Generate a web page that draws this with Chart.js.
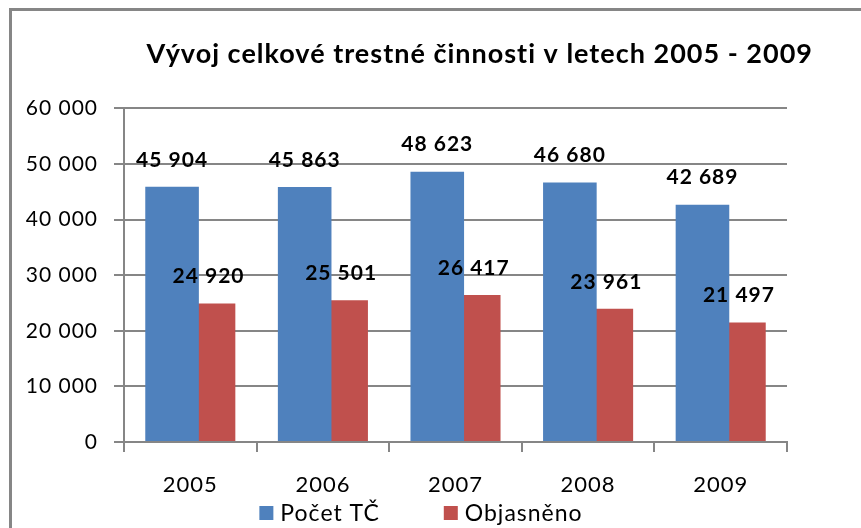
<!DOCTYPE html>
<html>
<head>
<meta charset="utf-8">
<script src="https://cdn.jsdelivr.net/npm/chart.js@4.4.1/dist/chart.umd.min.js"></script>
<style>
  html, body { margin: 0; padding: 0; background: #fff; overflow: hidden; }
  #wrap { position: relative; width: 861px; height: 528px; }
  #frame { position: absolute; left: 9px; top: 8px; width: 900px; height: 600px; border: 3px solid #868686; box-sizing: border-box; }
  canvas { position: absolute; left: 0; top: 0; }
</style>
</head>
<body>
<div id="wrap">
  <div id="frame"></div>
  <canvas id="chart" width="861" height="528"></canvas>
</div>
<script>
var years = ['2005', '2006', '2007', '2008', '2009'];
var pocetTC = [45904, 45863, 48623, 46680, 42689];
var objasneno = [24920, 25501, 26417, 23961, 21497];
var seriesNames = ['Počet TČ', 'Objasněno'];
var chartTitle = 'Vývoj celkové trestné činnosti v letech 2005 - 2009';

var gridColor = '#868686';
var fontName = 'Lato, "Liberation Sans", sans-serif';

// thousands separated by a space, like the original
function fmt(v) {
	return String(v).replace(/\B(?=(\d{3})+(?!\d))/g, ' ');
}

// the original text is a bit looser than Lato, widen it a little
var spacing = {
	id: 'spacing',
	afterInit: function(chart) { chart.ctx.letterSpacing = '1px'; },
	beforeUpdate: function(chart) { chart.ctx.letterSpacing = '1px'; },
	beforeDraw: function(chart) { chart.ctx.letterSpacing = '1px'; }
};

// value labels above each bar
var barLabels = {
	id: 'barLabels',
	afterDatasetsDraw: function(chart) {
		var ctx = chart.ctx;
		ctx.save();
		ctx.font = 'bold 21px ' + fontName;
		ctx.fillStyle = '#000';
		ctx.textAlign = 'center';
		ctx.textBaseline = 'middle';
		chart.data.datasets.forEach(function(ds, i) {
			chart.getDatasetMeta(i).data.forEach(function(bar, j) {
				ctx.fillText(fmt(ds.data[j]), bar.x, bar.y - 27);
			});
		});
		ctx.restore();
	}
};

// legend drawn under the axis, wide spacing between the items
var bottomLegend = {
	id: 'bottomLegend',
	afterDraw: function(chart) {
		var ctx = chart.ctx;
		var box = 14, gap = 7, between = 64, y = 513;
		ctx.save();
		ctx.font = '23px ' + fontName;
		ctx.textBaseline = 'middle';
		ctx.textAlign = 'left';
		var items = chart.data.datasets.map(function(ds) {
			return { text: ds.label, color: ds.backgroundColor, w: ctx.measureText(ds.label).width };
		});
		var total = 0;
		items.forEach(function(it, i) {
			total += box + gap + it.w + (i > 0 ? between : 0);
		});
		var x = 421 - total / 2;
		items.forEach(function(it) {
			ctx.fillStyle = it.color;
			ctx.fillRect(x, y - box / 2, box, box);
			ctx.fillStyle = '#000';
			ctx.fillText(it.text, x + box + gap, y + 1);
			x += box + gap + it.w + between;
		});
		ctx.restore();
	}
};

var ctx = document.getElementById('chart').getContext('2d');
new Chart(ctx, {
	type: 'bar',
	data: {
		labels: years,
		datasets: [{
			label: seriesNames[0],
			data: pocetTC,
			backgroundColor: '#4F81BD'
		}, {
			label: seriesNames[1],
			data: objasneno,
			backgroundColor: '#C0504D'
		}]
	},
	options: {
		responsive: false,
		animation: false,
		devicePixelRatio: 1,
		layout: { padding: { left: 10, right: 48, top: 0, bottom: 0 } },
		datasets: {
			bar: { categoryPercentage: 0.55, barPercentage: 1.47 }
		},
		scales: {
			x: {
				grid: { display: true, drawOnChartArea: false, drawTicks: true, tickLength: 10, color: gridColor, lineWidth: 2, offset: true },
				border: { display: true, color: gridColor, width: 2 },
				ticks: { color: '#000', font: { family: fontName, size: 22 }, padding: 20 },
				afterFit: function(scale) { scale.height = 86; }
			},
			y: {
				min: 0,
				max: 60000,
				grid: { color: gridColor, lineWidth: 2, tickLength: 10 },
				border: { display: true, color: gridColor, width: 2 },
				ticks: {
					stepSize: 10000,
					color: '#000',
					padding: 16,
					font: { family: fontName, size: 21 },
					callback: function(value) { return fmt(value); }
				},
				afterFit: function(scale) { scale.width = 114; }
			},
			y2: {
				position: 'right',
				display: true,
				grid: { display: false },
				border: { display: false },
				ticks: { display: false },
				afterFit: function(scale) { scale.width = 26; }
			}
		},
		plugins: {
			legend: { display: false },
			tooltip: { enabled: false },
			title: {
				display: true,
				text: chartTitle,
				align: 'end',
				color: '#000',
				font: { family: fontName, size: 27, weight: 'bold' },
				padding: { top: 38, bottom: 38 }
			}
		}
	},
	plugins: [spacing, barLabels, bottomLegend]
});
</script>
</body>
</html>
